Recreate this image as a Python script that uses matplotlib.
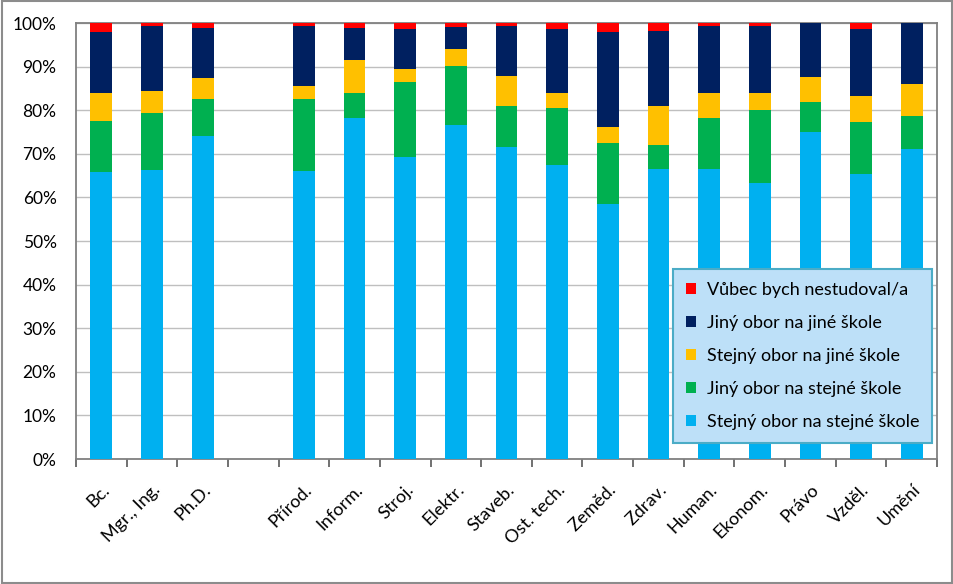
import numpy as np
import matplotlib.pyplot as plt
from matplotlib.patches import Rectangle

plt.rcParams['font.family'] = ['Lato', 'DejaVu Sans']

categories = ['Bc.', 'Mgr., Ing.', 'Ph.D.', '', 'Přírod.', 'Inform.', 'Stroj.',
              'Elektr.', 'Staveb.', 'Ost. tech.', 'Zeměd.', 'Zdrav.', 'Human.',
              'Ekonom.', 'Právo', 'Vzděl.', 'Umění']

# podíly v %, prázdná mezera po Ph.D.
stejny_stejna = [65.9, 66.3, 74.0, 0, 66.1, 78.2, 69.2, 76.5, 71.6, 67.5, 58.5, 66.5, 66.5, 63.4, 74.9, 65.3, 71.0]
jiny_stejna   = [11.7, 13.1, 8.6, 0, 16.5, 5.7, 17.2, 13.6, 9.3, 12.9, 14.0, 5.6, 11.6, 16.6, 6.9, 11.9, 7.6]
stejny_jina   = [6.3, 5.0, 4.7, 0, 3.0, 7.6, 3.0, 4.0, 6.9, 3.5, 3.7, 8.8, 5.8, 3.9, 5.8, 6.0, 7.4]
jiny_jina     = [14.1, 14.8, 11.6, 0, 13.8, 7.4, 9.2, 5.0, 11.4, 14.7, 21.8, 17.3, 15.3, 15.3, 12.4, 15.4, 14.0]
vubec         = [2.0, 0.8, 1.1, 0, 0.6, 1.1, 1.4, 0.8, 0.8, 1.4, 2.0, 1.8, 0.8, 0.8, 0.0, 1.4, 0.0]

series = [
    ('Stejný obor na stejné škole', stejny_stejna, '#00B0F0'),
    ('Jiný obor na stejné škole', jiny_stejna, '#00B050'),
    ('Stejný obor na jiné škole', stejny_jina, '#FFC000'),
    ('Jiný obor na jiné škole', jiny_jina, '#002060'),
    ('Vůbec bych nestudoval/a', vubec, '#FF0000'),
]

fig = plt.figure(figsize=(9.54, 5.84), dpi=100)
ax = fig.add_axes([0.0797, 0.214, 0.9025, 0.7466])

x = np.arange(len(categories))
bottom = np.zeros(len(categories))
handles = []
for label, vals, color in series:
    vals = np.array(vals) / 100
    h = ax.bar(x, vals, width=0.43, bottom=bottom, color=color, label=label,
               linewidth=0, zorder=3)
    handles.append(h)
    bottom += vals

ax.set_xlim(-0.5, len(categories) - 0.5)
ax.set_ylim(0, 1)
ax.set_yticks(np.arange(0, 1.01, 0.1))
ax.set_yticklabels([f'{int(round(v * 100))}%' for v in np.arange(0, 1.01, 0.1)], fontsize=12.5)
ax.tick_params(axis='y', length=0, pad=14)
ax.grid(axis='y', color='#BFBFBF', linewidth=1, zorder=0)

ax.set_xticks(x)
ax.set_xticklabels(categories, rotation=45, ha='right', rotation_mode='anchor', fontsize=13)
ax.set_xticks(np.arange(-0.5, len(categories), 1), minor=True)
ax.tick_params(axis='x', which='major', length=0, pad=16)
ax.tick_params(axis='x', which='minor', length=6, color='#595959', width=1.2)

for side in ['left', 'bottom', 'right', 'top']:
    ax.spines[side].set_color('#808080')
    ax.spines[side].set_linewidth(1.3)

leg = ax.legend(handles[::-1], [s[0] for s in series][::-1], loc='lower right',
                bbox_to_anchor=(0.994, 0.037), fontsize=13, frameon=True, fancybox=False,
                handlelength=0.55, handleheight=0.55, handletextpad=0.6,
                labelspacing=0.95, borderpad=0.7, borderaxespad=0)
leg.get_frame().set_facecolor('#BDE0F8')
leg.get_frame().set_edgecolor('#4BACC6')
leg.get_frame().set_linewidth(1.5)
leg.get_frame().set_alpha(1)
leg.set_zorder(5)

fig.patches.append(Rectangle((0.002, 0.002), 0.996, 0.996, transform=fig.transFigure,
                             fill=False, edgecolor='#8C8C8C', linewidth=1.5))

fig.savefig('out.png', dpi=100)
